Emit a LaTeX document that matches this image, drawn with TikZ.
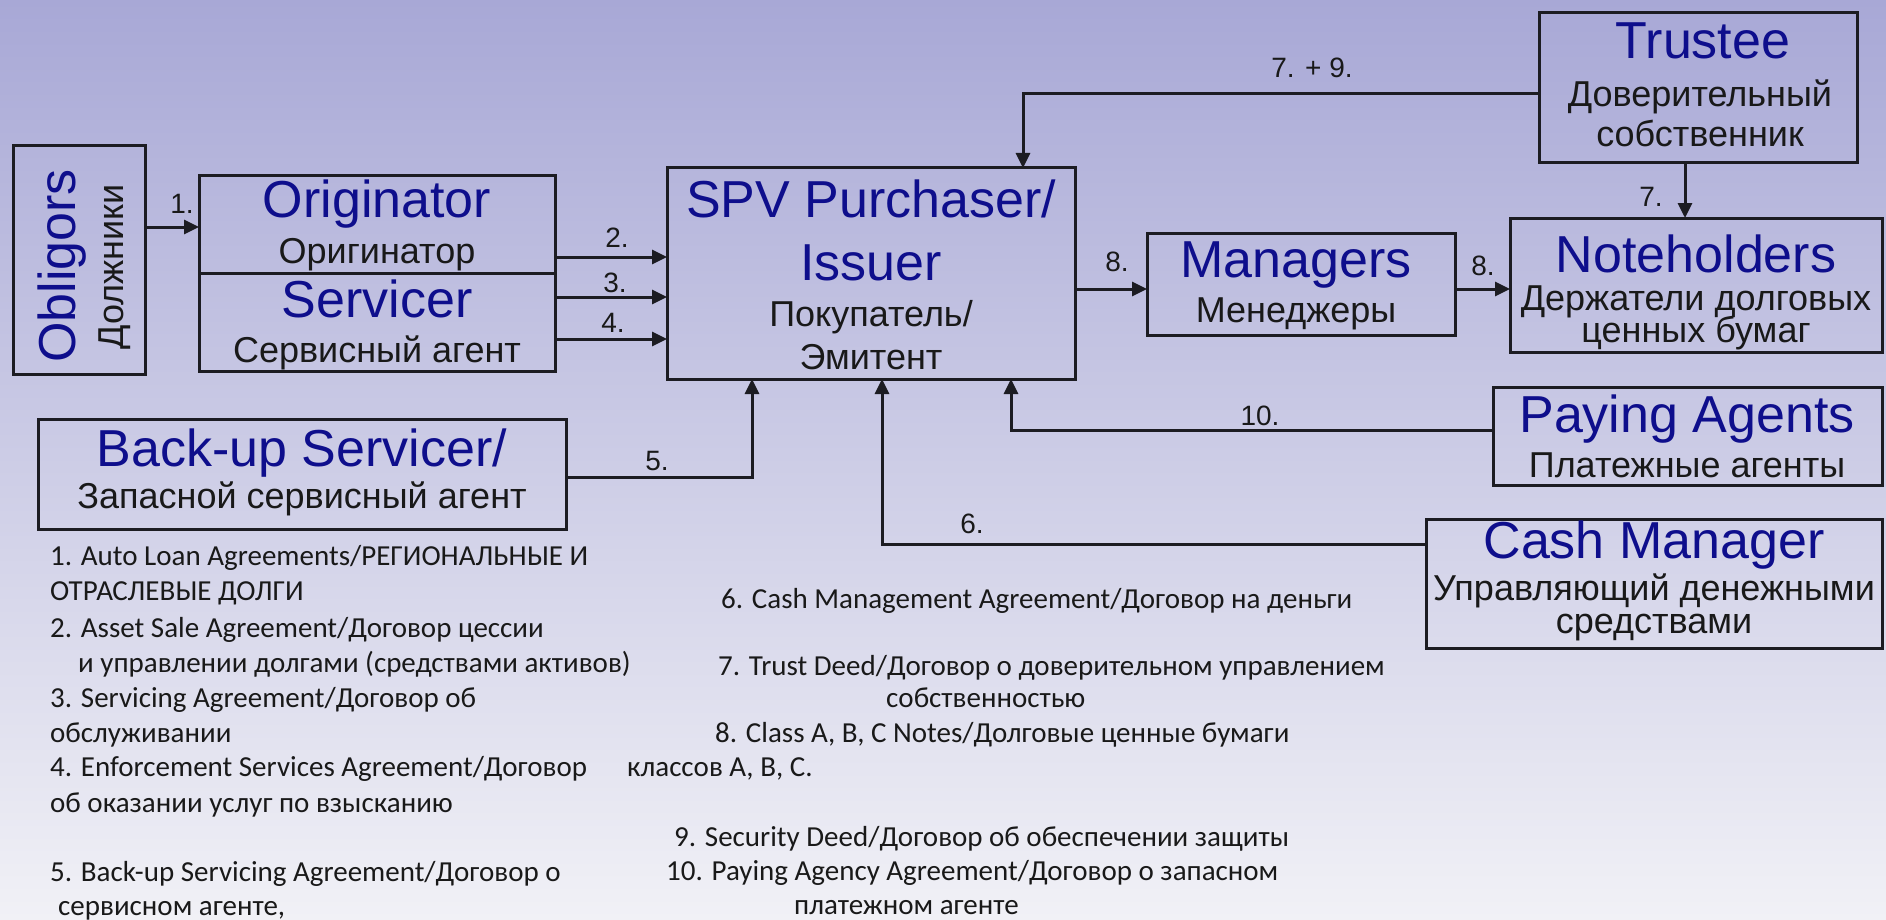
\documentclass[tikz,border=0pt]{standalone}
\usepackage{fontspec}
\setmainfont{Liberation Sans}
\newfontfamily\notefont{Carlito}
\usetikzlibrary{arrows.meta,calc}
\definecolor{hblue}{RGB}{14,14,140}
\definecolor{linec}{RGB}{28,28,34}
\definecolor{bgtop}{RGB}{168,168,214}
\definecolor{bgmid}{RGB}{210,210,231}
\definecolor{bgbot}{RGB}{241,241,246}
\tikzset{
  box/.style={draw=linec, line width=3pt, inner sep=0pt, outer sep=0pt},
  hd/.style={text=hblue, font=\fontsize{52}{60}\selectfont, inner sep=0pt, anchor=base},
  sub/.style={text=black!90, font=\fontsize{36}{42}\selectfont, inner sep=0pt, anchor=base},
  lbl/.style={text=black!90, font=\fontsize{28}{30}\selectfont, inner sep=0pt, anchor=base},
  notetxt/.style={text=black!90, font=\notefont\fontsize{29}{35}\selectfont, anchor=base west, inner sep=0pt},
  arr/.style={line width=3pt, draw=linec, -{Triangle[length=15pt,width=14pt]}},
}
\begin{document}
\begin{tikzpicture}[x=1pt,y=-1pt]
\useasboundingbox (0,0) rectangle (1886,920);
\shade[top color=bgtop, middle color=bgmid, bottom color=bgbot] (0,0) rectangle (1886,920);

% boxes
\node[box, minimum width=132pt, minimum height=228pt] (obl) at (79,260) {};
\node[box, minimum width=356pt, minimum height=97pt] (origA) at (377,224.5) {};
\node[box, minimum width=356pt, minimum height=98pt] (serv) at (377,322) {};
\node[box, minimum width=408pt, minimum height=211pt] (spv) at (871,273.5) {};
\node[box, minimum width=308pt, minimum height=102pt] (mgr) at (1301,284) {};
\node[box, minimum width=372pt, minimum height=134pt] (note) at (1696,285) {};
\node[box, minimum width=318pt, minimum height=150pt] (trus) at (1698,88) {};
\node[box, minimum width=389pt, minimum height=98pt] (pay) at (1687.5,436) {};
\node[box, minimum width=456pt, minimum height=129pt] (cash) at (1654,583.5) {};
\node[box, minimum width=528pt, minimum height=110pt] (back) at (302,474) {};

% box texts (positioned at their baselines)
\node[hd, rotate=90] (t-obl1) at (75,266) {Obligors};
\node[sub, rotate=90] (t-obl2) at (123,267) {Должники};
\node[hd] (t-or1) at (377,218) {Originator};
\node[sub] (t-or2) at (377,263) {Оригинатор};
\node[hd] (t-se1) at (377,317) {Servicer};
\node[sub] (t-se2) at (377,362) {Сервисный агент};
\node[hd] (t-spv1) at (871,218) {SPV Purchaser/};
\node[hd] (t-spv2) at (871,280) {Issuer};
\node[sub] (t-spv3) at (871,326) {Покупатель/};
\node[sub] (t-spv4) at (871,369) {Эмитент};
\node[hd] (t-mg1) at (1296,277) {Managers};
\node[sub] (t-mg2) at (1296,322) {Менеджеры};
\node[hd] (t-no1) at (1696,272) {Noteholders};
\node[sub] (t-no2) at (1696,310) {Держатели долговых};
\node[sub] (t-no3) at (1696,342) {ценных бумаг};
\node[hd] (t-tr1) at (1703,59) {Trustee};
\node[sub] (t-tr2) at (1700,107) {Доверительный};
\node[sub] (t-tr3) at (1700,147) {собственник};
\node[hd] (t-pa1) at (1687,432) {Paying Agents};
\node[sub] (t-pa2) at (1687,477) {Платежные агенты};
\node[hd] (t-ca1) at (1654,558) {Cash Manager};
\node[sub] (t-ca2) at (1654,600) {Управляющий денежными};
\node[sub] (t-ca3) at (1654,633) {средствами};
\node[hd] (t-ba1) at (302,466) {Back-up Servicer/};
\node[sub] (t-ba2) at (302,508) {Запасной сервисный агент};

% connectors
\draw[arr] (obl.east |- 0,227) -- (origA.west |- 0,227);
\draw[arr] (origA.east |- 0,257) -- (spv.west |- 0,257);
\draw[arr] (serv.east |- 0,297) -- (spv.west |- 0,297);
\draw[arr] (serv.east |- 0,339) -- (spv.west |- 0,339);
\draw[arr] (spv.east |- 0,289) -- (mgr.west |- 0,289);
\draw[arr] (mgr.east |- 0,289) -- (note.west |- 0,289);
\draw[arr] (trus.south -| 1685,0) -- (note.north -| 1685,0);
\draw[arr] (trus.west |- 0,94) -| ([xshift=152pt]spv.north);
\draw[arr] (pay.west |- 0,430) -| ([xshift=140pt]spv.south);
\draw[arr] (cash.west |- 0,544) -| ([xshift=11pt]spv.south);
\draw[arr] (back.east |- 0,477) -| ([xshift=-119pt]spv.south);

% connector labels (baselines)
\node[lbl] (l1) at (182,213) {1.};
\node[lbl] (l2) at (617,247) {2.};
\node[lbl] (l3) at (615,292) {3.};
\node[lbl] (l4) at (613,332) {4.};
\node[lbl] (l8a) at (1117,271) {8.};
\node[lbl] (l8b) at (1483,275) {8.};
\node[lbl] (l7) at (1651,207) {7.};
\node[lbl] (l79) at (1312,78) {7. + 9.};
\node[lbl] (l10) at (1260,425) {10.};
\node[lbl] (l6) at (972,533) {6.};
\node[lbl] (l5) at (657,470) {5.};

% notes (baselines)
\node[notetxt] (n1) at (50,565) {1. Auto Loan Agreements/РЕГИОНАЛЬНЫЕ И};
\node[notetxt] (n1b) at (50,600) {ОТРАСЛЕВЫЕ ДОЛГИ};
\node[notetxt] (n2) at (50,637) {2. Asset Sale Agreement/Договор цессии};
\node[notetxt] (n2b) at (78,672) {и управлении долгами (средствами активов)};
\node[notetxt] (n3) at (50,707) {3. Servicing Agreement/Договор об};
\node[notetxt] (n3b) at (50,742) {обслуживании};
\node[notetxt] (n4) at (50,776) {4. Enforcement Services Agreement/Договор};
\node[notetxt] (n8b) at (627,776) {классов А, В, С.};
\node[notetxt] (n4b) at (50,812) {об оказании услуг по взысканию};
\node[notetxt] (n5) at (50,881) {5. Back-up Servicing Agreement/Договор о};
\node[notetxt] (n5b) at (58,915) {сервисном агенте,};
\node[notetxt] (n6) at (721,608) {6. Cash Management Agreement/Договор на деньги};
\node[notetxt] (n7) at (718,675) {7. Trust Deed/Договор о доверительном управлением};
\node[notetxt] (n7b) at (886,707) {собственностью};
\node[notetxt] (n8) at (715,742) {8. Class A, B, C Notes/Долговые ценные бумаги};
\node[notetxt] (n9) at (674,846) {9. Security Deed/Договор об обеспечении защиты};
\node[notetxt] (n10) at (666,880) {10. Paying Agency Agreement/Договор о запасном};
\node[notetxt] (n10b) at (794,914) {платежном агенте};
\end{tikzpicture}
\end{document}
